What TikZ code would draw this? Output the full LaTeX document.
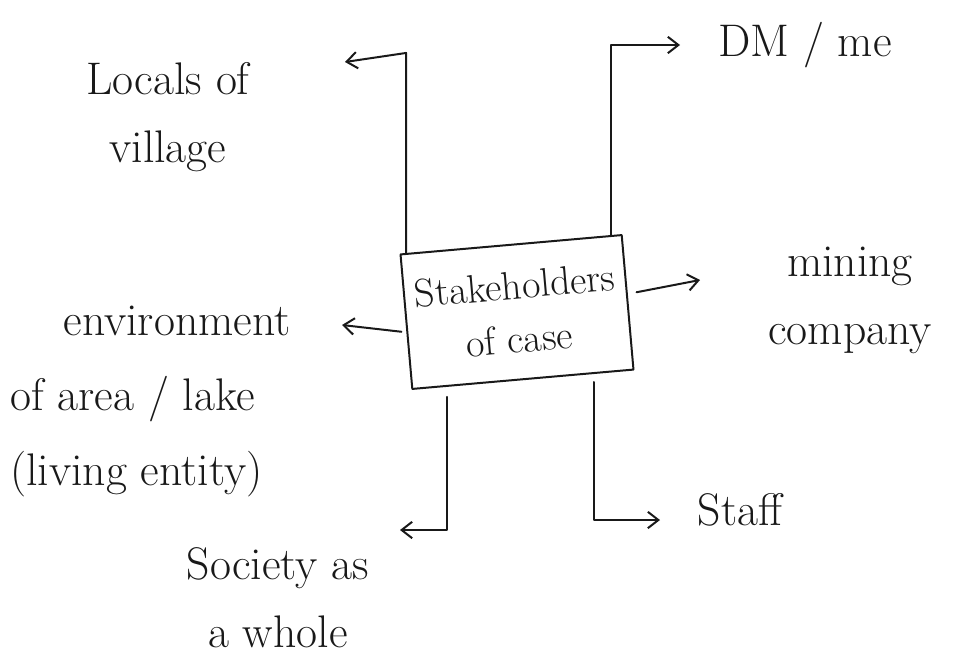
\documentclass[tikz,border=0pt]{standalone}
\usetikzlibrary{arrows.meta,calc}
\begin{document}
\begin{tikzpicture}[x=0.03cm,y=-0.03cm,
  ink/.style={draw=black!90,line width=1.7pt,line cap=round,line join=round},
  arr/.style={ink,-{Straight Barb[length=9pt,width=14pt,line width=1.7pt]}},
  lbl/.style={font=\fontsize{39}{58}\selectfont,inner sep=0pt,text=black!90},
  boxstyle/.style={ink,rectangle,minimum width=6.66cm,minimum height=4.05cm,rotate=5,
    align=center,font=\fontsize{34}{46}\selectfont,text=black!90}]
\useasboundingbox[fill=white] (0,0) rectangle (963,662);

\node[boxstyle] (box) at (517,312) {Stakeholders\\of case};

\node[lbl,align=center] (locals) at (168,117) {Locals of\\village};
\node[lbl] (dm) at (805,45) {DM / me};
\node[lbl,align=center] (mining) at (850,300) {mining\\company};
\node[lbl,align=left,anchor=north west,font=\fontsize{39}{64}\selectfont] (env) at (10,306) {\hspace*{1.6cm}environment\\of area / lake\\(living entity)};
\node[lbl,align=center] (society) at (278,598) {Society as\\a whole};
\node[lbl] (staff) at (740,510) {Staff};

\coordinate (ltip) at (345,62);
\coordinate (dtip) at (680,45);
\coordinate (mtip) at (700,280);
\coordinate (etip) at (342,325);
\coordinate (stip) at (400,530);
\coordinate (ftip) at (660,520);

\coordinate (lstart) at ($(box.north west)!0.03!(box.north east)$);
\coordinate (dstart) at ($(box.north west)!0.95!(box.north east)$);
\coordinate (sstart) at ($(box.south west)!0.16!(box.south east)$);
\coordinate (fstart) at ($(box.south west)!0.82!(box.south east)$);

\draw[arr] (lstart) -- ++(0,-200) -- (ltip);
\draw[arr] (dstart) |- (dtip);
\draw[arr] ($(box.east)+(8,-10)$) -- (mtip);
\draw[arr] ($(box.west)+(-4,10)$) -- (etip);
\draw[arr] ($(sstart)+(0,10)$) |- (stip);
\draw[arr] ($(fstart)+(0,8)$) |- (ftip);
\end{tikzpicture}
\end{document}
